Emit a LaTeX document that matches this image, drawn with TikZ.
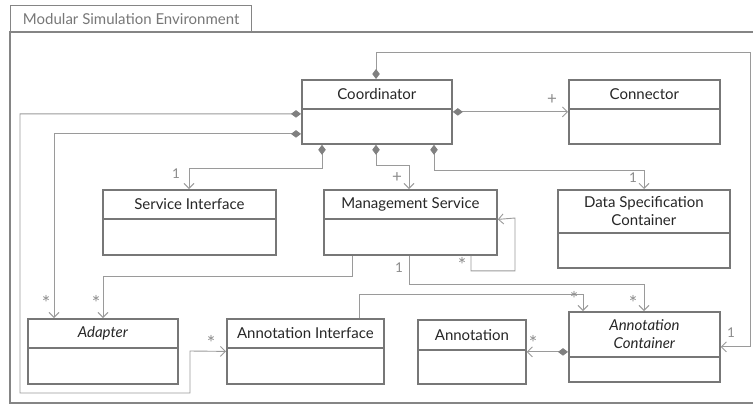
\documentclass[tikz,border=0pt]{standalone}
\usepackage{fontspec}
\setmainfont{Lato}
\usepackage{xcolor}
\usetikzlibrary{arrows.meta, positioning}

\definecolor{boxgray}{HTML}{777777}
\definecolor{linegray}{HTML}{9A9A9A}
\definecolor{diagray}{HTML}{808080}
\definecolor{labgray}{HTML}{8C8C8C}

\tikzset{
  classbox/.style={draw=boxgray, line width=1.8pt, anchor=north west, inner sep=0pt},
  classhead/.style={draw=boxgray, line width=1.8pt, anchor=north west, inner sep=0pt,
    align=center, font=\fontsize{15}{18}\selectfont, text=black!85},
  comp/.style={draw=linegray, line width=0.9pt,
    {Diamond[length=10pt,width=7.5pt,fill=diagray,color=diagray]}-{Straight Barb[length=5pt,width=10pt]}},
  assoc/.style={draw=linegray, line width=0.9pt, -{Straight Barb[length=5pt,width=10pt]}},
  mult/.style={text=labgray, font=\fontsize{13.5}{13.5}\selectfont, inner sep=0pt},
  multstar/.style={mult, font=\fontsize{20}{20}\selectfont},
  multplus/.style={mult, font=\fontsize{17}{17}\selectfont}
}

\begin{document}
\begin{tikzpicture}[x=1pt, y=-1pt]
	\useasboundingbox (0,0) rectangle (753,405);
	
	% frame
	\node[draw=boxgray!90, line width=1.4pt, anchor=north west, minimum width=241, minimum height=27,
	  inner sep=0pt, text=boxgray, font=\fontsize{15}{17}\selectfont] (tab) at (10,5) {Modular Simulation Environment};
	\draw[boxgray!90, line width=1.4pt] (753,32) -- (10,32) -- (10,403) -- (753,403);
	
	% classes
	\node[classbox, minimum width=150, minimum height=64] (coord) at (301,79) {};
	\node[classhead, minimum width=150, minimum height=29] (coordh) at (301,79) {Coordinator};
	\node[classbox, minimum width=151, minimum height=64] (conn) at (568,79) {};
	\node[classhead, minimum width=151, minimum height=29] (connh) at (568,79) {Connector};
	
	\node[classbox, minimum width=173, minimum height=65] (sif) at (102,189) {};
	\node[classhead, minimum width=173, minimum height=29] (sifh) at (102,189) {Service Interface};
	\node[classbox, minimum width=173, minimum height=65] (msv) at (323,189) {};
	\node[classhead, minimum width=173, minimum height=29] (msvh) at (323,189) {Management Service};
	\node[classbox, minimum width=172, minimum height=78] (dsc) at (557,189) {};
	\node[classhead, minimum width=172, minimum height=43] (dsch) at (557,189) {Data Specification\\Container};
	
	\node[classbox, minimum width=150, minimum height=65] (adap) at (27,318) {};
	\node[classhead, minimum width=150, minimum height=29] (adaph) at (27,318) {\itshape Adapter};
	\node[classbox, minimum width=157, minimum height=65] (anif) at (226,318) {};
	\node[classhead, minimum width=157, minimum height=29] (anifh) at (226,318) {Annotation Interface};
	\node[classbox, minimum width=108, minimum height=64] (anno) at (417,319) {};
	\node[classhead, minimum width=108, minimum height=30] (annoh) at (417,319) {Annotation};
	\node[classbox, minimum width=151, minimum height=70] (ancon) at (568,311) {};
	\node[classhead, minimum width=151, minimum height=45] (anconh) at (568,311) {\itshape Annotation\\\itshape Container};
	
	% connectors
	\draw[comp] ([xshift=75pt]coord.north west) |- (750,52) |- (ancon.east);
	\draw[comp] (coord.east) -- (conn.west);
	\draw[comp] ([yshift=-2pt]coord.west) -| (20,393) -| (190,351) -- (anif.west);
	\draw[comp] ([yshift=-22pt]coord.west) -| ([xshift=27pt]adap.north west);
	\draw[comp] ([xshift=21pt]coord.south west) -- ++(0,24) -| ([xshift=87pt]sif.north west);
	\draw[comp] ([xshift=75pt]coord.south west) -- ++(0,21) -| ([xshift=86pt]msv.north west);
	\draw[comp] ([xshift=133pt]coord.south west) -- ++(0,26) -| ([xshift=87pt]dsc.north west);
	\draw[comp] (anno.east -| ancon.west) -- (anno.east);
	
	\draw[assoc] ([xshift=148pt]msv.south west) -- ++(0,15) -| (515,218) -- ([yshift=3pt]msv.east);
	\draw[assoc] ([xshift=29pt]msv.south west) -- ++(0,21) -| ([xshift=76pt]adap.north west);
	\draw[assoc] ([xshift=86pt]msv.south west) -- ++(0,29) -| ([xshift=76pt]ancon.north west);
	\draw[assoc] ([xshift=133pt]anif.north west) -- ++(0,-24) -| ([xshift=15pt]ancon.north west);
	
	% multiplicities
	\node[mult] (m1) at (731,333) {1};
	\node[multplus] (m2) at (552,100) {+};
	\node[multstar] (m3) at (211,343) {*};
	\node[multstar] (m4) at (46,303) {*};
	\node[mult] (m5) at (176,174) {1};
	\node[multplus] (m6) at (397,178) {+};
	\node[mult] (m7) at (633,178) {1};
	\node[multstar] (m8) at (462,265) {*};
	\node[multstar] (m9) at (96,303) {*};
	\node[mult] (m10) at (399,268) {1};
	\node[multstar] (m11) at (633,303) {*};
	\node[multstar] (m12) at (574,299) {*};
	\node[multstar] (m13) at (533,343) {*};
	
\end{tikzpicture}
\end{document}
